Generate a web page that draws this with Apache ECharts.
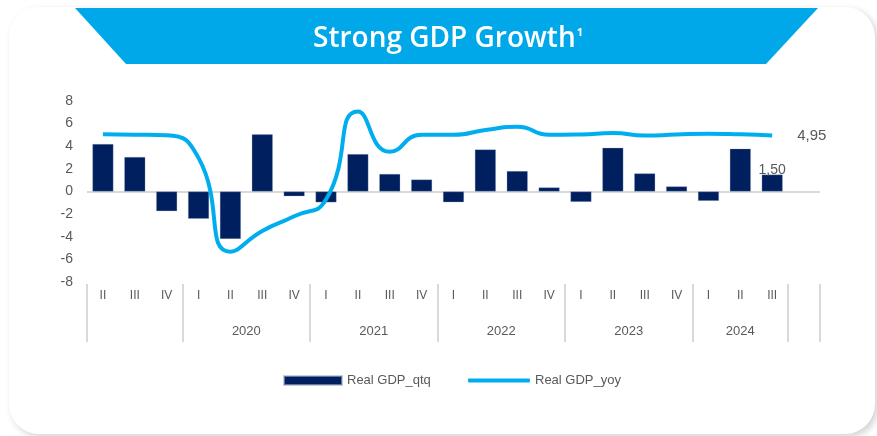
<!DOCTYPE html>
<html>
<head>
<meta charset="utf-8">
<title>Strong GDP Growth</title>
<script src="https://cdn.jsdelivr.net/npm/echarts@6/dist/echarts.min.js"></script>
<style>
html, body { margin: 0; padding: 0; background: #fff; }
#chart { width: 877px; height: 436px; }
</style>
</head>
<body>
<div id="chart"></div>
<script>
// quarters from 2019 Q2, last slot is left empty like in the deck
var quarters = ['II', 'III', 'IV', 'I', 'II', 'III', 'IV', 'I', 'II', 'III', 'IV', 'I', 'II', 'III', 'IV', 'I', 'II', 'III', 'IV', 'I', 'II', 'III', '']
var years = ['2020', '2021', '2022', '2023', '2024']
var gdpQtq = [4.2, 3.05, -1.74, -2.41, -4.19, 5.05, -0.42, -0.96, 3.31, 1.55, 1.06, -0.95, 3.72, 1.81, 0.36, -0.92, 3.86, 1.6, 0.45, -0.83, 3.79, 1.5]
var gdpYoy = [5.05, 5.02, 4.97, 2.97, -5.32, -3.49, -2.19, -0.71, 7.07, 3.51, 5.02, 5.01, 5.44, 5.72, 5.01, 5.04, 5.17, 4.94, 5.04, 5.11, 5.05, 4.95]

var grey = '#595959'
var font = 'Liberation Sans'

// year group borders: start, every quarter I, end of data, end of axis
var bounds = [0]
quarters.forEach(function (q, i) {
  if (q === 'I') bounds.push(i)
})
bounds.push(gdpQtq.length, quarters.length)
var yearCenters = years.map(function (y, k) {
  return (bounds[k + 1] + bounds[k + 2]) / 2
})

function comma (v) {
  return v.toFixed(2).replace('.', ',')
}

// only the latest bar carries a label
var last = gdpQtq.length - 1
var qtqData = gdpQtq.map(function (v, i) {
  return i === last ? {value: v, label: {show: true}} : v
})

var chart = echarts.init(document.getElementById('chart'))
var option = {
  animation: false,
  graphic: [
    {
      type: 'rect',
      silent: true,
      z: -10,
      shape: {x: 9, y: 7, width: 866, height: 427, r: 30},
      style: {fill: '#fff', shadowBlur: 7, shadowColor: 'rgba(0,0,0,0.18)', shadowOffsetX: 3, shadowOffsetY: 3}
    },
    {
      type: 'polygon',
      silent: true,
      z: -5,
      shape: {points: [[75, 8], [818, 8], [766, 64], [126, 64]]},
      style: {fill: '#00A8EA'}
    }
  ],
  title: {
    text: '{t|Strong GDP Growth}{s|1}',
    left: 443,
    top: 20,
    textAlign: 'center',
    textStyle: {
      rich: {
        t: {fontSize: 28, fontWeight: 600, color: '#fff', fontFamily: 'Open Sans'},
        s: {fontSize: 11, color: '#fff', fontFamily: 'Open Sans', verticalAlign: 'top', padding: [2, 0, 0, 1]}
      }
    }
  },
  legend: [
    {
      data: ['Real GDP_qtq'],
      left: 278,
      top: 369,
      icon: 'rect',
      itemWidth: 58,
      itemHeight: 9,
      textStyle: {color: grey, fontSize: 13, fontFamily: font}
    },
    {
      data: ['Real GDP_yoy'],
      left: 463,
      top: 369,
      icon: 'roundRect',
      itemWidth: 62,
      itemHeight: 4,
      textStyle: {color: grey, fontSize: 13, fontFamily: font}
    }
  ],
  grid: {left: 87, right: 57, top: 101, bottom: 154},
  xAxis: [
    {
      type: 'category',
      data: quarters,
      position: 'bottom',
      axisLine: {show: false},
      axisTick: {show: false},
      axisLabel: {color: grey, fontSize: 12, fontFamily: font, margin: 8, interval: 0}
    },
    {
      type: 'value',
      position: 'bottom',
      offset: 2,
      min: 0,
      max: quarters.length,
      splitLine: {show: false},
      axisLine: {show: false},
      axisTick: {show: true, customValues: bounds, length: 58, lineStyle: {color: '#d9d9d9', width: 2}},
      axisLabel: {
        customValues: yearCenters,
        color: grey,
        fontSize: 13,
        fontFamily: font,
        margin: 41,
        formatter: function (v) {
          var k = yearCenters.indexOf(v)
          return k >= 0 ? years[k] : ''
        }
      }
    }
  ],
  yAxis: {
    type: 'value',
    min: -8,
    max: 8,
    interval: 2,
    axisLine: {show: false},
    axisTick: {show: false},
    axisLabel: {color: grey, fontSize: 14, fontFamily: font, margin: 14},
    splitLine: {
      show: true,
      lineStyle: {
        width: 2,
        // only the zero line is visible
        color: ['rgba(0,0,0,0)', 'rgba(0,0,0,0)', 'rgba(0,0,0,0)', 'rgba(0,0,0,0)', '#d9d9d9',
          'rgba(0,0,0,0)', 'rgba(0,0,0,0)', 'rgba(0,0,0,0)', 'rgba(0,0,0,0)']
      }
    }
  },
  series: [
    {
      name: 'Real GDP_qtq',
      type: 'bar',
      barWidth: 21,
      data: qtqData,
      itemStyle: {color: '#001F5E', borderColor: 'rgba(160,175,205,0.6)', borderWidth: 0.5},
      label: {
        show: false,
        position: 'top',
        distance: -3,
        color: grey,
        fontSize: 14,
        fontFamily: font,
        formatter: function (p) { return comma(p.value) }
      }
    },
    {
      name: 'Real GDP_yoy',
      type: 'line',
      smooth: 0.55,
      symbol: 'none',
      data: gdpYoy,
      itemStyle: {color: '#00AEEF'},
      lineStyle: {color: '#00AEEF', width: 4},
      endLabel: {
        show: true,
        distance: 25,
        color: grey,
        fontSize: 15,
        fontFamily: font,
        formatter: function (p) { return comma(p.value) }
      }
    }
  ]
}
chart.setOption(option)
window.addEventListener('resize', function () {
  chart.resize()
})
</script>
</body>
</html>
